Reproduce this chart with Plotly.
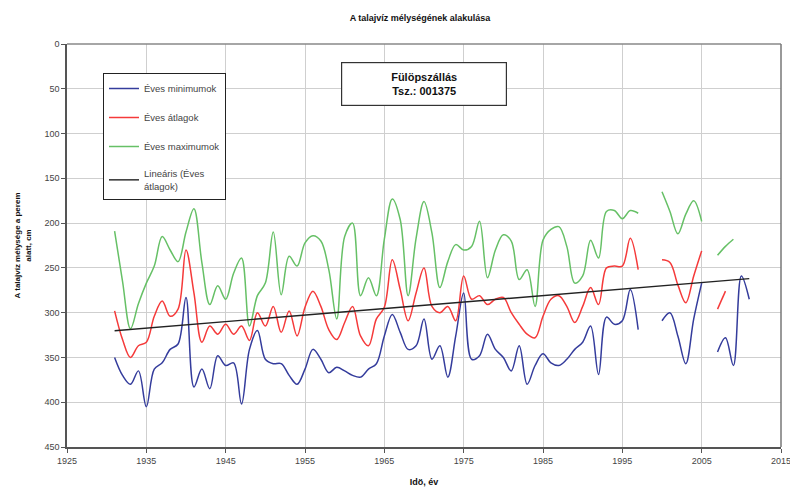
import numpy as np
import plotly.graph_objects as go

years = list(range(1931, 2012))

maximumok = [209, 265, 318, 290, 267, 248, 215, 230, 243, 210,
             184, 244, 291, 270, 285, 256, 239, 315, 281, 267,
             210, 280, 237, 248, 222, 214, 220, 252, 307, 215,
             200, 281, 261, 281, 218, 173, 196, 281, 217, 176,
             211, 272, 243, 224, 230, 226, 198, 261, 230, 213,
             220, 263, 252, 293, 219, 207, 204, 226, 267, 259,
             219, 239, 187, 186, 195, 186, 189, None, None, 165,
             187, 212, 190, 175, 198, None, 236, 226, 218, None,
             None]

atlagok = [298, 330, 350, 337, 333, 304, 287, 304, 296, 230,
           278, 333, 315, 324, 313, 324, 315, 331, 300, 315,
           293, 322, 298, 326, 294, 276, 293, 319, 330, 311,
           293, 326, 337, 307, 294, 241, 274, 309, 278, 250,
           293, 300, 293, 309, 259, 285, 281, 291, 285, 283,
           300, 313, 324, 328, 304, 285, 281, 293, 311, 293,
           272, 291, 250, 248, 248, 217, 252, None, None, 241,
           244, 269, 289, 259, 231, None, 296, 276, None, None,
           None]

minimumok = [350, 370, 380, 365, 405, 363, 356, 341, 335, 283,
             383, 363, 385, 348, 359, 356, 402, 341, 320, 352,
             357, 357, 370, 380, 363, 341, 352, 367, 361, 365,
             370, 372, 363, 357, 326, 302, 322, 341, 337, 307,
             352, 337, 372, 326, 278, 352, 348, 324, 341, 350,
             365, 337, 380, 359, 346, 356, 359, 352, 341, 333,
             315, 369, 305, 313, 309, 274, 319, None, None, 309,
             300, 326, 357, 307, 267, None, 344, 328, 359, 259,
             285]

x_ticks = list(range(1925, 2016, 10))
y_ticks = list(range(0, 451, 50))

# linear trend of the yearly averages
vx = np.array([y for y, v in zip(years, atlagok) if v is not None], dtype=float)
vy = np.array([v for v in atlagok if v is not None], dtype=float)
k, b = np.polyfit(vx, vy, 1)
trend_x = [years[0], years[-1]]
trend_y = [k * t + b for t in trend_x]

fig = go.Figure()
common = dict(mode="lines", connectgaps=False, line_shape="spline")
fig.add_trace(go.Scatter(x=years, y=minimumok, name="Éves minimumok",
                         line=dict(color="#343c9c", width=1.5, smoothing=1.0),
                         legendgroup="a", **common))
fig.add_trace(go.Scatter(x=years, y=atlagok, name="Éves átlagok",
                         line=dict(color="#f53a3a", width=1.5, smoothing=1.0),
                         legendgroup="b", **common))
fig.add_trace(go.Scatter(x=years, y=maximumok, name="Éves maximumok",
                         line=dict(color="#66c066", width=1.5, smoothing=1.0),
                         legendgroup="c", **common))
fig.add_trace(go.Scatter(x=trend_x, y=trend_y, name="Lineáris (Éves<br>átlagok)",
                         mode="lines", line=dict(color="#222222", width=1.4),
                         legendgroup="d"))

font_family = "Liberation Sans, Arial, sans-serif"
L, R, T, B = 67, 9, 44, 40
W, H = 790, 487
PW, PH = W - L - R, H - T - B

fig.update_layout(
    width=W, height=H,
    margin=dict(l=L, r=R, t=T, b=B, autoexpand=False),
    paper_bgcolor="white", plot_bgcolor="white",
    font=dict(family=font_family, size=9, color="#333333"),
    title=dict(text="<b>A talajvíz mélységének alakulása</b>",
               x=420 / W, xanchor="center", y=1 - 18 / H, yanchor="middle",
               font=dict(size=9, color="#111111")),
    showlegend=True,
    legend=dict(x=(103 - L) / PW, y=1 - (73 - T) / PH, xanchor="left", yanchor="top",
                bgcolor="white", bordercolor="#222222", borderwidth=1,
                font=dict(size=9.5, color="#444444"),
                traceorder="grouped", tracegroupgap=10,
                itemwidth=30),
    xaxis=dict(range=[1925, 2015], tickvals=x_ticks, ticktext=[str(t) for t in x_ticks],
               automargin=False,
               showgrid=True, gridcolor="#cfcfcf", gridwidth=1,
               showline=True, linecolor="#555555", linewidth=1.5, mirror=False,
               ticks="outside", ticklen=4, tickcolor="#555555",
               ticklabeloverflow="allow",
               tickfont=dict(size=9, color="#444444"), zeroline=False,
               title=dict(text="<b>Idö, év</b>", font=dict(size=9, color="#111111"), standoff=14)),
    yaxis=dict(range=[450, 0], tickvals=y_ticks,
               automargin=False,
               showgrid=True, gridcolor="#cfcfcf", gridwidth=1,
               showline=True, linecolor="#555555", linewidth=1.5, mirror=False,
               ticks="outside", ticklen=4, tickcolor="#555555",
               tickfont=dict(size=9, color="#444444"), zeroline=False,
               title=dict(text="<b>A talajvíz mélysége a perem<br>alatt, cm</b>",
                          font=dict(size=8, color="#111111"), standoff=12)),
    shapes=[
        dict(type="line", xref="paper", yref="paper", x0=0, x1=1, y0=1, y1=1,
             line=dict(color="#888888", width=1.5)),
        dict(type="line", xref="paper", yref="paper", x0=1, x1=1, y0=0, y1=1,
             line=dict(color="#777777", width=1.5)),
    ],
    annotations=[
        dict(text="<b>Fülöpszállás</b><br><b>Tsz.: 001375</b>",
             xref="paper", yref="paper", x=(424 - L) / PW, y=1 - (84 - T) / PH,
             xanchor="center", yanchor="middle", showarrow=False,
             width=162, height=40, align="center",
             bgcolor="white", bordercolor="#333333", borderwidth=1.2,
             font=dict(size=11, color="#111111", family=font_family)),
    ],
)

fig.write_html("out.html", config={"displayModeBar": False},
               post_script="document.body.style.margin='0px';")
